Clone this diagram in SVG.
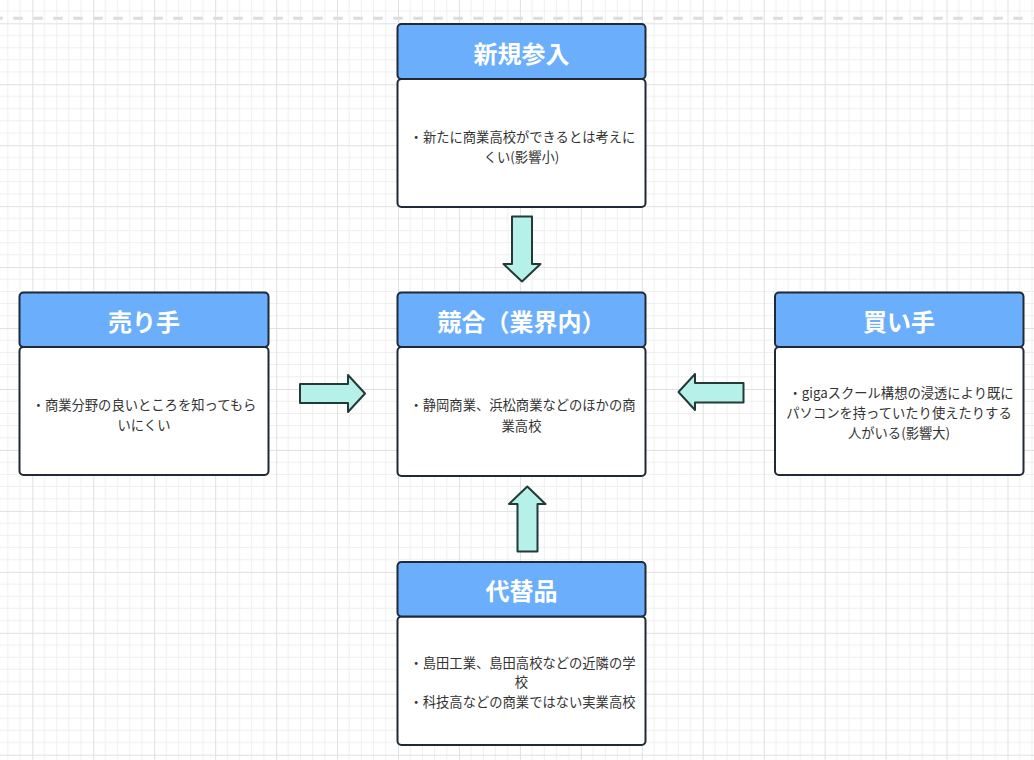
<svg xmlns="http://www.w3.org/2000/svg" width="1034" height="760" viewBox="0 0 1034 760">
<style>
.hdr{fill:#6aaefc;stroke:#1f2937;stroke-width:2}
.body{fill:#ffffff;stroke:#1f2937;stroke-width:2}
.title{font-family:"Noto Sans CJK JP","Noto Sans",sans-serif;font-size:24px;font-weight:bold;fill:#ffffff;text-anchor:middle;dominant-baseline:central}
.txt{font-family:"Noto Sans CJK JP","Noto Sans",sans-serif;font-size:13.3px;fill:#333333;text-anchor:middle;dominant-baseline:central}
.arr{fill:#b5f1e8;stroke:#23393a;stroke-width:2;stroke-linejoin:round}
</style>
<defs>
<pattern id="grid" patternUnits="userSpaceOnUse" x="32.3" y="23.3" width="60.95" height="60.95">
<path d="M12.19 0V60.95M24.38 0V60.95M36.57 0V60.95M48.76 0V60.95M0 12.19H60.95M0 24.38H60.95M0 36.57H60.95M0 48.76H60.95" stroke="#efefef" stroke-width="1" fill="none"/>
<path d="M0.5 0V60.95M0 0.5H60.95" stroke="#e0e0e0" stroke-width="1" fill="none"/>
</pattern>
</defs>
<rect width="1034" height="760" fill="#ffffff"/>
<rect width="1034" height="760" fill="url(#grid)"/>
<line x1="-6.7" y1="18.3" x2="1040" y2="18.3" stroke="#dcdcdc" stroke-width="3" stroke-dasharray="9.5 10.5"/>

<g id="connectors">
<path class="arr" d="M300 384H348V375L365 393.5L348 412V403H300Z"/>
<path class="arr" d="M743.5 383H695V374L678.5 392L695 410V402.5H743.5Z"/>
<path class="arr" d="M512 216.5H532V264H540.5L522 281.5L503.5 264H512Z"/>
<path class="arr" d="M517.5 551.5V504H509L527.3 486.5L545.5 504H537.5V551.5Z"/>
</g>

<g id="node-shinki">
<rect class="body" x="397.5" y="79" width="248" height="128" rx="4"/>
<rect class="hdr" x="397.5" y="24" width="248" height="55" rx="4"/>
<text class="title" x="521.5" y="52">新規参入</text>
<text class="txt" x="522.5" y="136.7">・新たに商業高校ができるとは考えに</text>
<text class="txt" x="521.5" y="156">くい(影響小)</text>
</g>

<g id="node-urite">
<rect class="body" x="19.5" y="347" width="249" height="128" rx="4"/>
<rect class="hdr" x="19.5" y="292.5" width="249" height="54.5" rx="4"/>
<text class="title" x="144" y="320">売り手</text>
<text class="txt" x="144" y="404">・商業分野の良いところを知ってもら</text>
<text class="txt" x="144" y="424">いにくい</text>
</g>

<g id="node-kyougou">
<rect class="body" x="397.5" y="347" width="248" height="129" rx="4"/>
<rect class="hdr" x="397.5" y="292.5" width="248" height="54.5" rx="4"/>
<text class="title" x="521.5" y="320">競合（業界内）</text>
<text class="txt" x="522.5" y="404.3">・静岡商業、浜松商業などのほかの商</text>
<text class="txt" x="521.5" y="425">業高校</text>
</g>

<g id="node-kaite">
<rect class="body" x="775" y="347" width="248.5" height="128" rx="4"/>
<rect class="hdr" x="775" y="292.5" width="248.5" height="54.5" rx="4"/>
<text class="title" x="899" y="320">買い手</text>
<text class="txt" x="901" y="392.3">・gigaスクール構想の浸透により既に</text>
<text class="txt" x="899" y="412.3">パソコンを持っていたり使えたりする</text>
<text class="txt" x="899" y="432.3">人がいる(影響大)</text>
</g>

<g id="node-daitai">
<rect class="body" x="397.5" y="616.5" width="248" height="128.5" rx="4"/>
<rect class="hdr" x="397.5" y="562" width="248" height="54.5" rx="4"/>
<text class="title" x="521.5" y="589.5">代替品</text>
<text class="txt" x="522.5" y="662.7">・島田工業、島田高校などの近隣の学</text>
<text class="txt" x="521.5" y="681.7">校</text>
<text class="txt" x="522.5" y="701.7">・科技高などの商業ではない実業高校</text>
</g>
</svg>
